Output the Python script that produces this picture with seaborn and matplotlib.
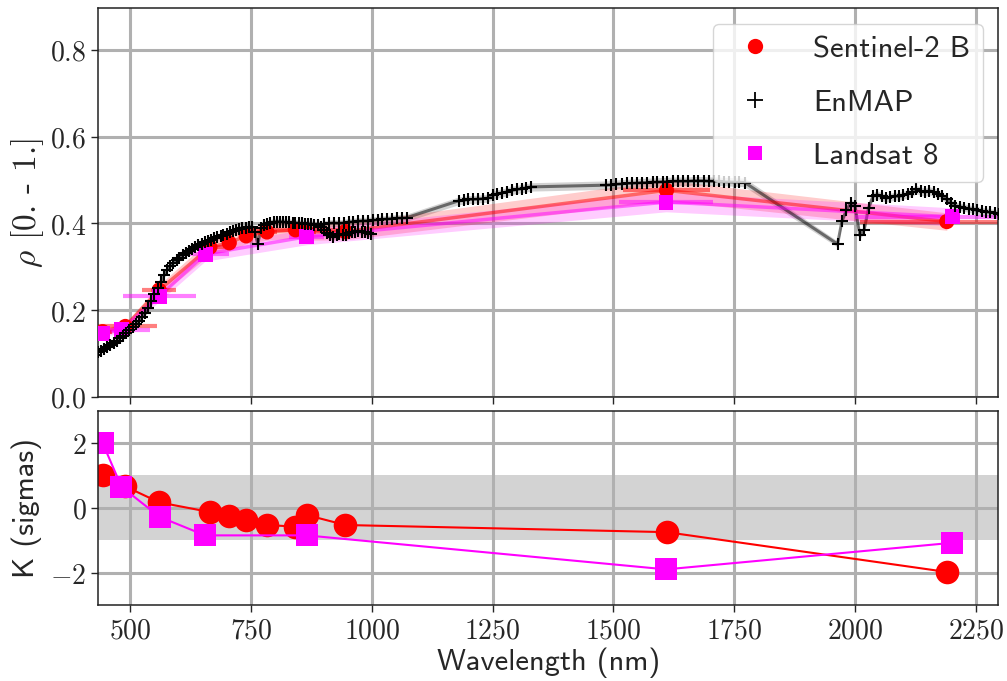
import numpy as np
import pandas as pd
import seaborn as sns
import matplotlib
matplotlib.use("Agg")
import matplotlib.pyplot as plt
from matplotlib.lines import Line2D
from matplotlib.ticker import FixedLocator, FuncFormatter

# ---------------- data ----------------
# Sentinel-2 B
s2_wl = [443, 490, 560, 665, 705, 740, 783, 842, 865, 945, 1610, 2190]
s2_bw = [20, 65, 35, 30, 15, 15, 20, 115, 20, 20, 90, 180]
s2_rho = [0.150, 0.162, 0.246, 0.345, 0.355, 0.371, 0.380, 0.385, 0.380, 0.381, 0.476, 0.404]
s2_k = [1.02, 0.66, 0.17, -0.13, -0.24, -0.38, -0.53, -0.58, -0.22, -0.53, -0.75, -1.98]
s2_rel_unc = 0.05

# Landsat 8
l8_wl = [443, 482, 561, 655, 865, 1609, 2201]
l8_bw = [16, 60, 75, 50, 36, 98, 200]
l8_rho = [0.146, 0.154, 0.232, 0.329, 0.369, 0.449, 0.415]
l8_k = [2.0, 0.65, -0.28, -0.85, -0.85, -1.9, -1.08]
l8_rel_unc = 0.05

# EnMAP VNIR
env_wl = [420, 427, 433, 440, 446, 453, 459, 466, 472, 479, 485, 492, 498, 505, 511,
          518, 524, 531, 537, 544, 550, 557, 563, 570, 576, 583, 589, 596, 602, 609,
          615, 622, 628, 635, 641, 648, 654, 661, 667, 674, 680, 687, 693, 700, 706,
          713, 719, 726, 732, 739, 745, 752, 758, 764, 771, 777, 784, 790, 797, 803,
          810, 816, 823, 829, 836, 842, 849, 855, 862, 868, 875, 881, 888, 894, 901,
          907, 914, 920, 927, 933, 940, 946, 953, 959, 966, 972, 979, 985, 992, 998]
env_rho = [0.092, 0.097, 0.102, 0.106, 0.110, 0.114, 0.119, 0.124, 0.129, 0.135, 0.141,
           0.148, 0.154, 0.160, 0.167, 0.175, 0.183, 0.192, 0.205, 0.220, 0.236, 0.250,
           0.265, 0.280, 0.292, 0.302, 0.309, 0.316, 0.321, 0.327, 0.331, 0.336, 0.340,
           0.345, 0.349, 0.352, 0.356, 0.359, 0.362, 0.365, 0.368, 0.371, 0.374, 0.376,
           0.379, 0.382, 0.385, 0.388, 0.389, 0.390, 0.391, 0.392, 0.380, 0.352, 0.390,
           0.397, 0.399, 0.401, 0.403, 0.404, 0.404, 0.403, 0.402, 0.402, 0.401, 0.401,
           0.400, 0.400, 0.399, 0.399, 0.398, 0.397, 0.396, 0.392, 0.385, 0.378, 0.372,
           0.368, 0.372, 0.376, 0.372, 0.374, 0.378, 0.380, 0.381, 0.382, 0.381, 0.380,
           0.378, 0.376]
# EnMAP SWIR
ens_wl = [902, 912, 922, 932, 942, 952, 962, 972, 982, 992, 1002, 1012, 1022, 1032,
          1042, 1052, 1062, 1072,
          1180, 1190, 1200, 1210, 1220, 1230, 1240, 1250, 1260, 1270, 1280, 1290, 1300,
          1310, 1320, 1330,
          1485, 1496, 1506, 1517, 1528, 1538, 1549, 1559, 1570, 1581, 1591, 1602, 1612,
          1623, 1634, 1644, 1655, 1666, 1676, 1687, 1697, 1708, 1719, 1729, 1740, 1751,
          1761, 1772,
          1964, 1973, 1982, 1991, 2000, 2010, 2019, 2028, 2037, 2046, 2055, 2064, 2073,
          2082, 2091, 2100, 2109, 2118, 2127, 2136, 2145, 2154, 2163, 2172, 2181, 2190,
          2199, 2208, 2217, 2226, 2235, 2244, 2253, 2262, 2271, 2280, 2289, 2298, 2307]
ens_rho = [0.398, 0.400, 0.401, 0.400, 0.401, 0.403, 0.404, 0.405, 0.406, 0.406, 0.407,
           0.408, 0.409, 0.410, 0.411, 0.412, 0.412, 0.413,
           0.452, 0.453, 0.455, 0.455, 0.456, 0.457, 0.458, 0.465, 0.468, 0.470, 0.473,
           0.476, 0.478, 0.480, 0.482, 0.484,
           0.488, 0.489, 0.490, 0.491, 0.492, 0.492, 0.493, 0.494, 0.494, 0.495, 0.495,
           0.496, 0.496, 0.497, 0.497, 0.497, 0.497, 0.498, 0.498, 0.498, 0.497, 0.497,
           0.497, 0.496, 0.496, 0.495, 0.495, 0.494,
           0.352, 0.405, 0.430, 0.447, 0.440, 0.372, 0.385, 0.435, 0.462, 0.466, 0.462,
           0.458, 0.460, 0.463, 0.462, 0.465, 0.468, 0.472, 0.478, 0.474, 0.472, 0.475,
           0.472, 0.468, 0.463, 0.455, 0.446, 0.440, 0.438, 0.436, 0.434, 0.432, 0.430,
           0.428, 0.427, 0.425, 0.424, 0.422, 0.420]
enmap_rel_unc = 0.02

x_ticks = [500, 750, 1000, 1250, 1500, 1750, 2000, 2250]
rho_ticks = [0.0, 0.2, 0.4, 0.6, 0.8]
k_ticks = [-2, 0, 2]

# ---------------- style ----------------
sns.set_style("ticks")
plt.rcParams["mathtext.fontset"] = "cm"
plt.rcParams["axes.unicode_minus"] = True

W, H = 1007, 681
fig = plt.figure(figsize=(W / 100, H / 100), dpi=100)
L, R = 98.3, 998.0
ax1 = fig.add_axes([L / W, (H - 396.7) / H, (R - L) / W, (396.7 - 8.3) / H])
ax2 = fig.add_axes([L / W, (H - 605) / H, (R - L) / W, (605 - 410.7) / H])

grid_kw = dict(color="#b0b0b0", linewidth=2.2)

# ---------------- top panel ----------------
for wl, rho in [(env_wl, env_rho), (ens_wl, ens_rho)]:
    wl = np.asarray(wl)
    rho = np.asarray(rho)
    ax1.fill_between(wl, rho * (1 - enmap_rel_unc), rho * (1 + enmap_rel_unc),
                     color="gray", alpha=0.35, lw=0, zorder=1)
    sns.lineplot(x=wl, y=rho, ax=ax1, color="black", alpha=0.5, lw=2.2,
                 sort=False, estimator=None, zorder=2)

for wl, bw, rho, unc, col in [(s2_wl, s2_bw, s2_rho, s2_rel_unc, "red"),
                              (l8_wl, l8_bw, l8_rho, l8_rel_unc, "magenta")]:
    wl = np.asarray(wl)
    rho = np.asarray(rho)
    ax1.fill_between(wl, rho * (1 - unc), rho * (1 + unc), color=col,
                     alpha=0.2, lw=0, zorder=1.5)
    sns.lineplot(x=wl, y=rho, ax=ax1, color=col, alpha=0.5, lw=2.5,
                 estimator=None, zorder=2.2)
    ax1.errorbar(wl, rho, xerr=bw, fmt="none", ecolor=col, alpha=0.5,
                 elinewidth=3, zorder=2.3)

sns.scatterplot(x=s2_wl, y=s2_rho, ax=ax1, marker="o", s=120, color="red",
                edgecolor="none", zorder=3)
sns.scatterplot(x=l8_wl, y=l8_rho, ax=ax1, marker="s", s=115, color="magenta",
                edgecolor="none", zorder=3.1)
sns.scatterplot(x=env_wl + ens_wl, y=env_rho + ens_rho, ax=ax1, marker="+",
                s=75, color="black", linewidth=1.5, zorder=4)

ax1.set_xlim(434, 2296)
ax1.set_ylim(0, 0.896)
ax1.xaxis.set_major_locator(FixedLocator(x_ticks))
ax1.yaxis.set_major_locator(FixedLocator(rho_ticks))
ax1.yaxis.set_major_formatter(FuncFormatter(lambda v, p: f"${v:.1f}$"))
ax1.tick_params(axis="x", labelbottom=False)
ax1.tick_params(labelsize=20, length=5, width=1)
ax1.set_axisbelow(True)
ax1.grid(True, **grid_kw)
ax1.set_xlabel("")
ax1.set_ylabel(r"$\rho$ [0. - 1.]", fontfamily=["cmr10", "DejaVu Serif"],
               fontsize=24, labelpad=3)

handles = [
    Line2D([], [], ls="none", marker="o", color="red", ms=11, mew=0),
    Line2D([], [], ls="none", marker="+", color="black", ms=11, mew=1.3),
    Line2D([], [], ls="none", marker="s", color="magenta", ms=10, mew=0),
]
ax1.legend(handles, ["Sentinel-2 B", "EnMAP", "Landsat 8"], loc="upper right",
           prop={"family": "cmss10", "size": 22}, frameon=True, framealpha=0.8,
           edgecolor="0.8", fancybox=True, handletextpad=0.9, labelspacing=0.85,
           borderaxespad=0.5)

# ---------------- bottom panel ----------------
ax2.axhspan(-1, 1, color="lightgray", lw=0, zorder=0.2)
sns.lineplot(x=s2_wl, y=s2_k, ax=ax2, color="red", marker="o", markersize=17,
             markeredgewidth=0, lw=1.5, estimator=None, zorder=2)
sns.lineplot(x=l8_wl, y=l8_k, ax=ax2, color="magenta", marker="s", markersize=15.5,
             markeredgewidth=0, lw=1.5, estimator=None, zorder=2.1)

ax2.set_xlim(434, 2296)
ax2.set_ylim(-3, 3)
ax2.xaxis.set_major_locator(FixedLocator(x_ticks))
ax2.yaxis.set_major_locator(FixedLocator(k_ticks))
ax2.xaxis.set_major_formatter(FuncFormatter(lambda v, p: f"${v:.0f}$"))
ax2.yaxis.set_major_formatter(FuncFormatter(lambda v, p: f"${v:.0f}$"))
ax2.tick_params(labelsize=20, length=5, width=1)
ax2.set_axisbelow(True)
ax2.grid(True, **grid_kw)
ax2.set_xlabel("Wavelength (nm)", fontfamily="cmss10", fontsize=22, labelpad=2)
ax2.set_ylabel("K (sigmas)", fontfamily="cmss10", fontsize=22, labelpad=6)

for ax in (ax1, ax2):
    for s in ax.spines.values():
        s.set_color("#222222")
        s.set_linewidth(1.1)

fig.savefig("out.png", dpi=100)
